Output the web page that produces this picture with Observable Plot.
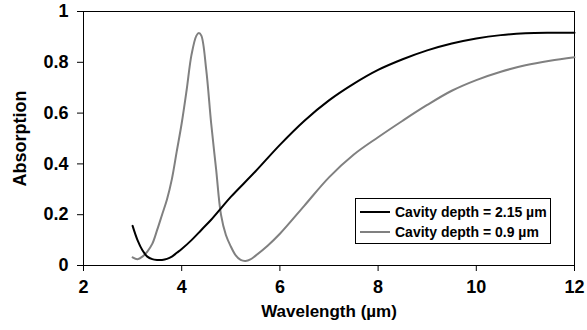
<!DOCTYPE html>
<html>
<head>
<meta charset="utf-8">
<script src="https://cdn.jsdelivr.net/npm/d3@7"></script>
<script src="https://cdn.jsdelivr.net/npm/@observablehq/plot@0.6"></script>
<style>
  html, body { margin: 0; padding: 0; background: #fff; }
  #wrap { position: relative; width: 587px; height: 330px; font-family: "Liberation Sans", Arial, sans-serif; }
  #legend { position: absolute; left: 355px; top: 198px; width: 194px; height: 44px; border: 1px solid #000; background: #fff; font-weight: bold; font-size: 14px; }
  .row { position: absolute; left: 4px; height: 20px; display: flex; align-items: center; white-space: nowrap; }
  .row svg { margin-right: 5px; }
</style>
</head>
<body>
<div id="wrap"><div id="legend"></div></div>
<script>
// Wavelength (µm) and absorption, cavity depth = 2.15 µm
const deepX = [3.0, 3.1, 3.2, 3.3, 3.4, 3.5, 3.6, 3.7, 3.8, 3.9, 4.0, 4.2, 4.4, 4.6, 4.8, 5.0, 5.5, 6.0, 6.5, 7.0, 7.5, 8.0, 8.5, 9.0, 9.5, 10.0, 10.5, 11.0, 11.5, 12.0];
const deepY = [0.156, 0.10, 0.06, 0.035, 0.025, 0.022, 0.022, 0.026, 0.035, 0.05, 0.065, 0.10, 0.14, 0.18, 0.225, 0.27, 0.37, 0.475, 0.57, 0.65, 0.715, 0.77, 0.812, 0.847, 0.874, 0.894, 0.907, 0.914, 0.916, 0.916];
// cavity depth = 0.9 µm
const shallowX = [3.0, 3.1, 3.2, 3.3, 3.4, 3.5, 3.6, 3.7, 3.8, 3.9, 4.0, 4.1, 4.2, 4.3, 4.35, 4.4, 4.5, 4.6, 4.7, 4.8, 4.9, 5.0, 5.1, 5.2, 5.3, 5.4, 5.5, 5.75, 6.0, 6.5, 7.0, 7.5, 8.0, 8.5, 9.0, 9.5, 10.0, 10.5, 11.0, 11.5, 12.0];
const shallowY = [0.032, 0.025, 0.035, 0.055, 0.085, 0.14, 0.2, 0.26, 0.34, 0.45, 0.56, 0.69, 0.83, 0.905, 0.915, 0.905, 0.77, 0.56, 0.38, 0.2, 0.12, 0.075, 0.04, 0.022, 0.018, 0.024, 0.038, 0.078, 0.125, 0.236, 0.347, 0.436, 0.505, 0.57, 0.632, 0.688, 0.73, 0.763, 0.788, 0.806, 0.82];

const seriesNames = ["Cavity depth = 2.15 \u00b5m", "Cavity depth = 0.9 \u00b5m"];
const seriesColors = ["#000000", "#808080"];
const xTicks = [2, 4, 6, 8, 10, 12];
const yTicks = [0, 0.2, 0.4, 0.6, 0.8, 1];
const yTickLabels = ["0", "0.2", "0.4", "0.6", "0.8", "1"];
const xTitle = "Wavelength (\u00b5m)";
const yTitle = "Absorption";

const deep = deepX.map((x, i) => ({x, y: deepY[i]}));
const shallow = shallowX.map((x, i) => ({x, y: shallowY[i]}));

const font = "Liberation Sans, Arial, sans-serif";

const chart = Plot.plot({
  width: 587,
  height: 330,
  marginLeft: 83,
  marginRight: 13,
  marginTop: 11,
  marginBottom: 65,
  style: {fontFamily: font, background: "#fff", overflow: "visible"},
  x: {domain: [2, 12]},
  y: {domain: [0, 1]},
  marks: [
    Plot.frame({stroke: "#000", strokeWidth: 1}),
    Plot.axisX({ticks: xTicks, tickSize: 6, tickPadding: 9, label: null, fontSize: 18, fontWeight: "bold", fill: "#000", stroke: "#000", strokeWidth: 1}),
    Plot.axisY({ticks: yTicks, tickFormat: d => yTickLabels[yTicks.indexOf(d)], tickSize: 6, tickPadding: 9, label: null, fontSize: 18, fontWeight: "bold", fill: "#000", stroke: "#000", strokeWidth: 1}),
    Plot.text([xTitle], {frameAnchor: "bottom", dy: 51, fontSize: 17, fontWeight: "bold", fill: "#000"}),
    Plot.text([yTitle], {frameAnchor: "left", textAnchor: "middle", lineAnchor: "middle", rotate: -90, dx: -63, fontSize: 18, fontWeight: "bold", fill: "#000"}),
    Plot.line(shallow, {x: "x", y: "y", stroke: seriesColors[1], strokeWidth: 2, curve: "catmull-rom"}),
    Plot.line(deep, {x: "x", y: "y", stroke: seriesColors[0], strokeWidth: 2, curve: "catmull-rom"})
  ]
});
const wrap = document.getElementById("wrap");
wrap.insertBefore(chart, wrap.firstChild);

const legend = document.getElementById("legend");
seriesNames.forEach((name, i) => {
  const row = document.createElement("div");
  row.className = "row";
  row.style.top = (i === 0 ? 3 : 23) + "px";
  row.innerHTML = `<svg width="30" height="4"><line x1="0" x2="30" y1="2" y2="2" stroke="${seriesColors[i]}" stroke-width="2"/></svg><span>${name}</span>`;
  legend.appendChild(row);
});
</script>
</body>
</html>
